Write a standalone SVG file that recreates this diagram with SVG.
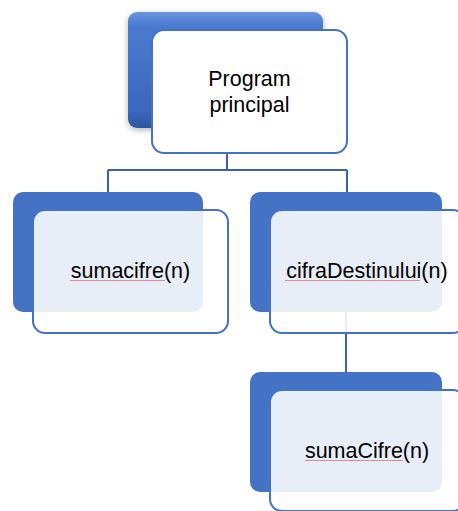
<svg xmlns="http://www.w3.org/2000/svg" width="458" height="511" viewBox="0 0 458 511">
<style>
.back{fill:#4472C4}
.front{fill:#ffffff;fill-opacity:0.88;stroke:#4472C4;stroke-width:2}
.conn{fill:none;stroke:#3A63AE;stroke-width:2}
.lbl{font-family:"Liberation Sans",Arial,sans-serif;font-size:21.5px;fill:#000;text-anchor:middle}
.spell{stroke:#E07070;stroke-width:1;opacity:0.8}
</style>
<defs>
<linearGradient id="gl" x1="0" y1="0" x2="0" y2="1">
<stop offset="0" stop-color="#6B95DD"/>
<stop offset="0.12" stop-color="#4A7AD0"/>
<stop offset="0.85" stop-color="#3A68BE"/>
<stop offset="1" stop-color="#2C559E"/>
</linearGradient>
<filter id="sh" x="-10%" y="-10%" width="120%" height="125%">
<feGaussianBlur in="SourceAlpha" stdDeviation="3"/>
<feOffset dx="0" dy="2" result="b"/>
<feFlood flood-color="#000" flood-opacity="0.3"/>
<feComposite in2="b" operator="in"/>
<feMerge><feMergeNode/><feMergeNode in="SourceGraphic"/></feMerge>
</filter>
</defs>
<g id="connectors">
<path class="conn" d="M227 128 V170 M108 170 H347 M108 170 V192 M347 170 V192"/>
<path class="conn" d="M346 312 V372"/>
</g>
<g id="node-program">
<rect x="128" y="12" width="195" height="116" rx="9" fill="url(#gl)" filter="url(#sh)"/>
<rect class="front" x="152" y="30" width="195" height="123" rx="12" style="fill-opacity:1"/>
<text class="lbl" x="249.5" y="86">Program</text>
<text class="lbl" x="249.5" y="112">principal</text>
</g>
<g id="node-sumacifre">
<rect class="back" x="13" y="192" width="190" height="120" rx="10"/>
<rect class="front" x="33" y="210" width="195" height="123" rx="12"/>
<text class="lbl" x="130.5" y="278">sumacifre(n)</text>
<line class="spell" x1="70" y1="280.5" x2="165" y2="280.5"/>
</g>
<g id="node-cifra">
<rect class="back" x="250" y="192" width="192" height="120" rx="10"/>
<rect class="front" x="270" y="210" width="195" height="123" rx="12"/>
<text class="lbl" x="367" y="278">cifraDestinului(n)</text>
<line class="spell" x1="285" y1="280.5" x2="420" y2="280.5"/>
</g>
<g id="node-sumaCifre">
<rect class="back" x="250" y="372" width="192" height="120" rx="10"/>
<rect class="front" x="270" y="390" width="195" height="121" rx="12"/>
<text class="lbl" x="367" y="458">sumaCifre(n)</text>
<line class="spell" x1="305" y1="460.5" x2="403" y2="460.5"/>
</g>
</svg>
